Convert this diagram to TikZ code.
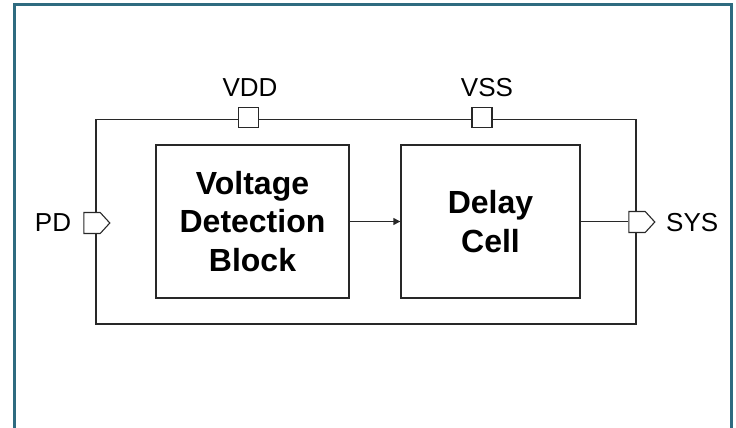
\documentclass[tikz,border=0pt]{standalone}
\usepackage{fontspec}
\setmainfont{Liberation Sans}
\usetikzlibrary{shapes.symbols,arrows.meta}
\definecolor{framecol}{RGB}{46,107,128}
\definecolor{linecol}{RGB}{40,40,40}
\begin{document}
\begin{tikzpicture}[x=1pt,y=-1pt,
  wire/.style={draw=linecol, line width=1.4pt},
  blockbox/.style={draw=linecol, line width=1.4pt, fill=white, inner sep=0pt, align=center,
    font=\fontsize{32}{38.5}\selectfont\bfseries},
  pinsq/.style={draw=linecol, line width=1.1pt, fill=white, minimum size=20pt, inner sep=0pt},
  pinport/.style={signal, signal to=east, draw=linecol, line width=1.1pt, fill=white,
    minimum width=26pt, minimum height=21pt, inner sep=0pt, signal pointer angle=95},
  lbl/.style={font=\fontsize{26}{30}\selectfont, inner sep=0pt}]
\path[use as bounding box, clip] (0,0) rectangle (736,428);
% outer frame
\coordinate (fbl) at (14,440);
\coordinate (ftl) at (14,5);
\coordinate (ftr) at (731.5,5);
\coordinate (fbr) at (731.5,440);
\draw[draw=framecol, line width=3pt] (fbl) -- (ftl) -- (ftr) -- (fbr);
% enclosing box
\node[draw=linecol, line width=1.4pt, minimum width=540pt, minimum height=204.5pt, inner sep=0pt] (outer) at (366,221.75) {};
% blocks
\node[blockbox, minimum width=193pt, minimum height=153pt] (vdb) at (252.5,221.5) {Voltage\\Detection\\Block};
\node[blockbox, minimum width=179pt, minimum height=153pt] (dc) at (490.5,221.5) {Delay\\Cell};
% pins
\node[pinsq] (vdd) at (248.5,117.5) {};
\node[pinsq] (vss) at (482,117.5) {};
\node[pinport] (pd) at (92,223) {};
\node[pinport] (sys) at (637,222) {};
% labels
\node[lbl] (vddl) at (250,88) {VDD};
\node[lbl] (vssl) at (487,88) {VSS};
\node[lbl] (pdl) at (53,223) {PD};
\node[lbl, anchor=west] (sysl) at (666,223) {SYS};
% connectors
\draw[wire, -{Triangle[length=7pt,width=7pt]}] (vdb.east) -- (dc.west);
\draw[wire] (dc.east) -- (dc.east -| sys.west);
\end{tikzpicture}
\end{document}
